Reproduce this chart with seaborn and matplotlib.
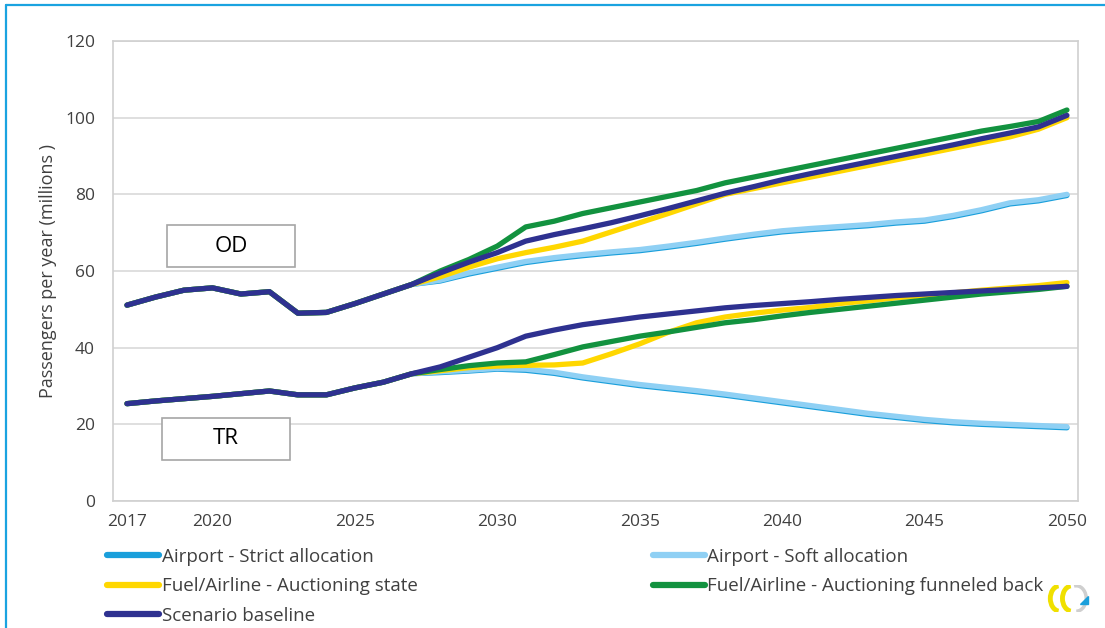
import numpy as np
import pandas as pd
import seaborn as sns
import matplotlib.pyplot as plt
import matplotlib.patches as mpatches
from matplotlib import font_manager
from matplotlib.lines import Line2D

years = list(range(2017, 2051))

# shared history 2017-2027
od_hist = [51.1, 53.2, 55.0, 55.6, 54.0, 54.6, 49.0, 49.2, 51.5, 54.0, 56.5]
tr_hist = [25.4, 26.1, 26.7, 27.3, 28.0, 28.7, 27.7, 27.7, 29.5, 31.0, 33.2]

# OD scenarios 2028-2050
od_baseline = [59.5, 62.3, 64.8, 67.8, 69.5, 71.0, 72.6, 74.4, 76.3, 78.3, 80.3, 82.0,
               83.8, 85.4, 86.9, 88.4, 89.9, 91.4, 92.9, 94.5, 96.0, 97.6, 100.6]
od_green = [60.0, 63.0, 66.5, 71.5, 73.0, 75.0, 76.5, 78.0, 79.5, 81.0, 83.0, 84.5,
            86.0, 87.5, 89.0, 90.5, 92.0, 93.5, 95.0, 96.5, 97.7, 99.0, 102.0]
od_yellow = [58.5, 61.0, 63.2, 64.8, 66.2, 67.8, 70.2, 72.6, 75.0, 77.5, 80.0, 81.5,
             83.0, 84.5, 86.0, 87.5, 89.0, 90.5, 92.0, 93.5, 95.0, 97.0, 100.0]
od_soft = [57.6, 59.5, 61.0, 62.5, 63.5, 64.3, 65.0, 65.6, 66.5, 67.5, 68.6, 69.6,
           70.5, 71.1, 71.6, 72.1, 72.8, 73.3, 74.5, 76.0, 77.8, 78.6, 80.0]
od_strict = [57.4, 59.2, 60.7, 62.2, 63.2, 64.0, 64.7, 65.3, 66.2, 67.2, 68.3, 69.3,
             70.2, 70.8, 71.3, 71.8, 72.5, 73.0, 74.2, 75.7, 77.5, 78.3, 79.7]

# TR scenarios 2028-2050
tr_baseline = [35.0, 37.5, 40.0, 43.0, 44.6, 46.0, 47.0, 48.0, 48.8, 49.6, 50.4, 51.0,
               51.5, 52.0, 52.6, 53.1, 53.6, 54.0, 54.4, 54.8, 55.2, 55.6, 56.0]
tr_green = [34.3, 35.3, 36.0, 36.3, 38.2, 40.2, 41.6, 43.0, 44.1, 45.3, 46.5, 47.3,
            48.3, 49.2, 50.0, 50.8, 51.6, 52.4, 53.2, 54.0, 54.6, 55.2, 56.0]
tr_yellow = [34.0, 34.8, 35.2, 35.4, 35.5, 36.0, 38.4, 41.0, 44.0, 46.5, 48.0, 49.0,
             49.8, 50.5, 51.5, 52.2, 53.0, 53.6, 54.3, 55.0, 55.6, 56.2, 57.0]
tr_soft = [33.7, 34.1, 34.6, 34.4, 33.6, 32.4, 31.4, 30.4, 29.6, 28.8, 27.9, 26.9,
           25.9, 24.9, 23.9, 22.9, 22.1, 21.3, 20.7, 20.3, 20.0, 19.7, 19.4]
tr_strict = [33.5, 33.9, 34.4, 34.1, 33.3, 32.1, 31.1, 30.1, 29.3, 28.5, 27.6, 26.6,
             25.6, 24.6, 23.6, 22.6, 21.8, 21.0, 20.4, 20.0, 19.7, 19.4, 19.1]

scenarios = ["Airport - Strict allocation", "Airport - Soft allocation",
             "Fuel/Airline - Auctioning state", "Fuel/Airline - Auctioning funneled back",
             "Scenario baseline"]
colors = ["#1a9fdb", "#8fd0f4", "#ffd700", "#12923f", "#2e3190"]

od_series = [od_strict, od_soft, od_yellow, od_green, od_baseline]
tr_series = [tr_strict, tr_soft, tr_yellow, tr_green, tr_baseline]

rows = []
for name, od_v, tr_v in zip(scenarios, od_series, tr_series):
    for y, v in zip(years, od_hist + od_v):
        rows.append({"year": y, "scenario": name, "segment": "OD", "value": v})
    for y, v in zip(years, tr_hist + tr_v):
        rows.append({"year": y, "scenario": name, "segment": "TR", "value": v})
df = pd.DataFrame(rows)

sns.set_style("white")
available = {f.name for f in font_manager.fontManager.ttflist}
base_font = "Open Sans" if "Open Sans" in available else "DejaVu Sans"
plt.rcParams["font.family"] = [base_font, "DejaVu Sans"]

fig = plt.figure(figsize=(11.05, 6.28), dpi=100)
ax = fig.add_axes([0.1023, 0.2022, 0.8733, 0.7325])

palette = dict(zip(scenarios, colors))
sns.lineplot(data=df, x="year", y="value", hue="scenario", units="segment",
             estimator=None, hue_order=scenarios, palette=palette,
             linewidth=3.8, legend=False, ax=ax)
for ln in ax.get_lines():
    ln.set_solid_capstyle("round")
    ln.set_solid_joinstyle("round")

ax.set_xlim(2016.51, 2050.39)
ax.set_ylim(0, 120)
ax.set_yticks(range(0, 121, 20))
ax.set_xticks([2017, 2020, 2025, 2030, 2035, 2040, 2045, 2050])
ax.tick_params(axis="both", length=0, labelsize=12.5, colors="#404040")
ax.tick_params(axis="x", pad=9)
ax.tick_params(axis="y", pad=13)
ax.yaxis.grid(True, color="#d9d9d9", linewidth=1.2)
ax.set_axisbelow(True)
for sp in ax.spines.values():
    sp.set_color("#d0d0d0")
    sp.set_linewidth(1.2)
ax.set_xlabel("")
ax.set_ylabel("Passengers per year (millions )", fontsize=13, color="#404040", labelpad=6)

# OD / TR boxes
for label, x0, y0 in [("OD", 2018.41, 61.0), ("TR", 2018.23, 10.7)]:
    ax.add_patch(mpatches.Rectangle((x0, y0), 4.5, 11.0, facecolor="white",
                                    edgecolor="#a6a6a6", linewidth=1.2, zorder=5))
    ax.text(x0 + 2.25, y0 + 5.5, label, ha="center", va="center",
            fontsize=16, color="black", zorder=6)

# legend in two blocks
def handles_for(idx):
    return [Line2D([0], [0], color=colors[i], linewidth=4.5, solid_capstyle="round") for i in idx]

leg_kw = dict(frameon=False, handlelength=2.75, handletextpad=0.15, labelspacing=0.62,
              prop={"family": [base_font, "DejaVu Sans"], "size": 13.5},
              labelcolor="#404040", borderaxespad=0, borderpad=0)
fig.legend(handles_for([0, 2, 4]), [scenarios[i] for i in [0, 2, 4]],
           loc="upper left", bbox_to_anchor=(0.097, 0.128), **leg_kw)
fig.legend(handles_for([1, 3]), [scenarios[i] for i in [1, 3]],
           loc="upper left", bbox_to_anchor=(0.591, 0.128), **leg_kw)

# small logo in corner
logo = fig.add_axes([0.945, 0.022, 0.045, 0.05])
logo.set_xlim(0, 4.5)
logo.set_ylim(0, 2.5)
logo.set_aspect("equal")
logo.axis("off")
logo.add_patch(mpatches.Arc((2.9, 1.25), 1.8, 2.3, theta1=270, theta2=100, color="#cfcfcf", linewidth=2.5))
logo.add_patch(mpatches.Arc((1.4, 1.25), 1.7, 2.3, theta1=95, theta2=265, color="#f0e000", linewidth=3.5))
logo.add_patch(mpatches.Arc((2.5, 1.25), 1.7, 2.3, theta1=95, theta2=265, color="#f0e000", linewidth=3.5))
logo.add_patch(mpatches.Polygon([[3.2, 0.75], [4.0, 0.75], [4.0, 1.5]], color="#1a9fdb"))

# outer frame
fig.add_artist(Line2D([0.0054, 1.0], [0.992, 0.992], color="#1aa3e0", linewidth=1.6))
fig.add_artist(Line2D([0.0054, 0.0054], [0.0, 0.992], color="#1aa3e0", linewidth=1.6))

fig.savefig("out.png", dpi=100)
